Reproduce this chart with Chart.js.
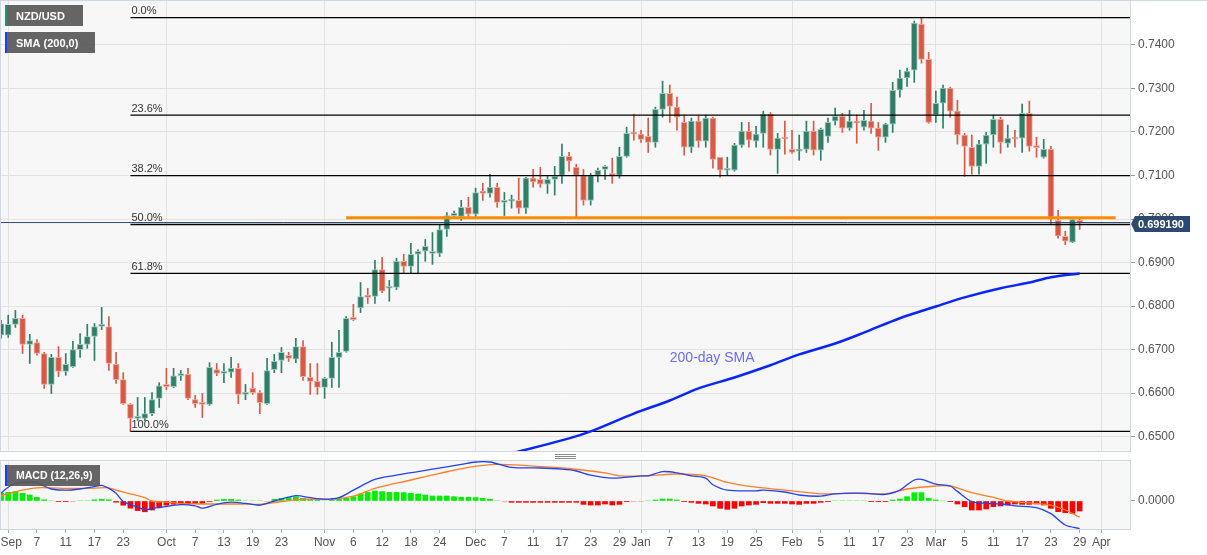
<!DOCTYPE html>
<html>
<head>
<meta charset="utf-8">
<script src="https://cdn.jsdelivr.net/npm/chart.js@4.4.0/dist/chart.umd.min.js"></script>
<style>
  body { margin: 0; background: #fff; width: 1207px; height: 555px; overflow: hidden; position: relative; }
  #price { position: absolute; left: 0; top: 0; }
  #macd { position: absolute; left: 0; top: 460px; }
</style>
</head>
<body>
<canvas id="price" width="1207" height="460"></canvas>
<canvas id="macd" width="1207" height="95"></canvas>
<script>
// trading days (weekdays) from Aug 31 2020, last few are empty space up to Apr 7
const dates = [];
for (let t = Date.UTC(2020, 7, 31); t <= Date.UTC(2021, 3, 7); t += 864e5) {
  const wd = new Date(t).getUTCDay();
  if (wd > 0 && wd < 6) dates.push(new Date(t).toISOString().slice(0, 10));
}
const at = d => dates.indexOf(d);

// NZD/USD daily OHLC, Aug 31 2020 .. Mar 29 2021
const openP = [
  .6733, .6733, .6758, .6772, .6712, .6716, .6691, .6620, .6682, .6650, .6661, .6700, .6712, .6730, .6753, .6753, .6666, .6631, .6574, .6542, .6542, .6553, .6588,
  .6620, .6615, .6640, .6643, .6585, .6578, .6574, .6654, .6645, .6648, .6657, .6597, .6611, .6601, .6576, .6654, .6675, .6687, .6678, .6707, .6636, .6627,
  .6613, .6634, .6682, .6696, .6774, .6796, .6825, .6822, .6884, .6841, .6843, .6903, .6891, .6919, .6926, .6921, .6921, .6976, .7008, .7006, .7027,
  .7011, .7064, .7059, .7073, .7038, .7041, .7043, .7025, .7094, .7091, .7080, .7091, .7100, .7144, .7119, .7100, .7043, .7100, .7114, .7105, .7100, .7144, .7198,
  .7195, .7190, .7176, .7252, .7289, .7257, .7222, .7165, .7225, .7179, .7232, .7142, .7112, .7112, .7170, .7202, .7179, .7197, .7241, .7160, .7188,
  .7160, .7156, .7160, .7202, .7158, .7190, .7225, .7236, .7209, .7225, .7211, .7225, .7209, .7188, .7218, .7296, .7324, .7342, .7448, .7367,
  .7239, .7266, .7301, .7248, .7193, .7165, .7121, .7172, .7193, .7229, .7174, .7187, .7186, .7243, .7167, .7142, .7160, .6997, .6960, .6947, .6997
];
const highP = [
  .6767, .6779, .6790, .6779, .6735, .6723, .6694, .6689, .6707, .6691, .6719, .6737, .6758, .6760, .6797, .6776, .6694, .6647, .6576, .6590, .6590, .6601, .6624,
  .6657, .6657, .6652, .6657, .6595, .6599, .6670, .6668, .6668, .6682, .6668, .6620, .6647, .6606, .6680, .6689, .6705, .6694, .6726, .6721, .6668, .6668,
  .6636, .6717, .6744, .6776, .6804, .6854, .6841, .6905, .6912, .6859, .6910, .6919, .6944, .6930, .6953, .6969, .6988, .7015, .7018, .7043, .7050,
  .7071, .7082, .7103, .7082, .7061, .7055, .7094, .7096, .7114, .7119, .7100, .7121, .7172, .7153, .7126, .7114, .7105, .7117, .7123, .7140, .7165, .7211, .7241,
  .7204, .7232, .7257, .7317, .7308, .7280, .7239, .7232, .7236, .7239, .7234, .7142, .7142, .7174, .7222, .7222, .7213, .7248, .7245, .7197, .7225,
  .7204, .7193, .7225, .7225, .7209, .7232, .7255, .7243, .7250, .7239, .7250, .7266, .7222, .7220, .7314, .7342, .7347, .7455, .7463, .7383,
  .7294, .7308, .7303, .7273, .7197, .7193, .7181, .7199, .7239, .7234, .7216, .7204, .7264, .7271, .7188, .7183, .7167, .7020, .6972, .7002, .7000
];
const lowP = [
  .6726, .6728, .6751, .6691, .6668, .6687, .6611, .6599, .6638, .6641, .6659, .6682, .6703, .6675, .6746, .6652, .6622, .6574, .6512, .6537, .6537, .6548, .6567,
  .6608, .6613, .6629, .6585, .6567, .6544, .6572, .6640, .6624, .6636, .6576, .6585, .6597, .6553, .6574, .6647, .6647, .6673, .6670, .6629, .6597, .6597,
  .6588, .6613, .6613, .6694, .6767, .6785, .6806, .6806, .6831, .6811, .6838, .6875, .6875, .6875, .6903, .6896, .6914, .6960, .7004, .6997, .7006,
  .7006, .7043, .7050, .7027, .7008, .7025, .7013, .7013, .7073, .7073, .7059, .7055, .7082, .7110, .7004, .7032, .7032, .7085, .7091, .7082, .7094, .7142, .7181,
  .7176, .7153, .7165, .7234, .7222, .7204, .7147, .7153, .7165, .7165, .7117, .7096, .7100, .7110, .7165, .7165, .7165, .7165, .7147, .7105, .7149,
  .7151, .7135, .7153, .7147, .7135, .7176, .7216, .7199, .7204, .7174, .7204, .7197, .7158, .7176, .7199, .7280, .7305, .7314, .7358, .7220,
  .7222, .7209, .7234, .7172, .7098, .7103, .7103, .7128, .7165, .7151, .7165, .7165, .7153, .7156, .7142, .7140, .6988, .6956, .6941, .6946, .6976
];
const closeP = [
  .6760, .6758, .6772, .6712, .6721, .6691, .6620, .6682, .6650, .6666, .6700, .6712, .6730, .6753, .6758, .6668, .6631, .6576, .6542, .6546, .6553, .6585, .6617,
  .6615, .6640, .6645, .6588, .6576, .6574, .6659, .6645, .6650, .6657, .6597, .6601, .6601, .6578, .6652, .6673, .6694, .6680, .6707, .6638, .6627, .6613,
  .6634, .6682, .6694, .6772, .6769, .6822, .6820, .6884, .6834, .6845, .6903, .6891, .6919, .6926, .6937, .6924, .6976, .7008, .7013, .7027, .7011,
  .7061, .7059, .7073, .7038, .7043, .7045, .7025, .7094, .7085, .7080, .7091, .7098, .7144, .7133, .7100, .7043, .7100, .7112, .7121, .7100, .7144, .7197, .7195,
  .7183, .7176, .7252, .7289, .7259, .7234, .7165, .7225, .7179, .7232, .7137, .7112, .7115, .7170, .7202, .7181, .7195, .7241, .7160, .7186, .7184,
  .7153, .7160, .7202, .7158, .7206, .7222, .7236, .7209, .7225, .7220, .7227, .7209, .7188, .7218, .7296, .7324, .7340, .7450, .7367, .7222,
  .7266, .7301, .7248, .7193, .7167, .7121, .7172, .7193, .7229, .7176, .7186, .7184, .7243, .7167, .7164, .7160, .7004, .6961, .6949, .6999, .69919
];

// 200-day SMA, read at a few sessions (earlier values sit below the panel)
const smaPts = [
  ['2020-11-23', .6428], ['2020-11-30', .6440], ['2020-12-09', .6466], ['2020-12-18', .6496], ['2020-12-23', .6512],
  ['2020-12-31', .6553], ['2021-01-07', .6583], ['2021-01-13', .6611], ['2021-01-20', .6636], ['2021-01-27', .6664],
  ['2021-02-02', .6689], ['2021-02-09', .6714], ['2021-02-15', .6739], ['2021-02-22', .6772], ['2021-03-01', .6799],
  ['2021-03-05', .6820], ['2021-03-12', .6841], ['2021-03-18', .6854], ['2021-03-23', .6866], ['2021-03-29', .6875]
];

// MACD (12,26,9)
const macdPts = [
  ['2020-08-31', .0013], ['2020-09-01', .0023], ['2020-09-02', .0030], ['2020-09-03', .0031], ['2020-09-07', .0031],
  ['2020-09-08', .0025], ['2020-09-09', .0020], ['2020-09-11', .0018], ['2020-09-15', .0020], ['2020-09-17', .0024],
  ['2020-09-18', .0026], ['2020-09-21', .0021], ['2020-09-22', .0013], ['2020-09-23', -.0001], ['2020-09-25', -.0010],
  ['2020-09-28', -.0015], ['2020-09-29', -.0012], ['2020-09-30', -.0011], ['2020-10-05', -.0006], ['2020-10-07', -.0008],
  ['2020-10-08', -.0012], ['2020-10-12', -.00055], ['2020-10-14', -.0002], ['2020-10-16', -.0004], ['2020-10-20', -.0007],
  ['2020-10-22', .0000], ['2020-10-27', .0009], ['2020-10-29', .00055], ['2020-11-02', .0003], ['2020-11-04', .00055],
  ['2020-11-06', .0018], ['2020-11-11', .0036], ['2020-11-16', .0043], ['2020-11-19', .0049], ['2020-11-23', .0053],
  ['2020-11-27', .0061], ['2020-12-01', .0065], ['2020-12-03', .0065], ['2020-12-08', .0056], ['2020-12-14', .0055],
  ['2020-12-17', .0053], ['2020-12-21', .0050], ['2020-12-23', .0043], ['2020-12-28', .0038], ['2021-01-01', .0042],
  ['2021-01-04', .0042], ['2021-01-06', .0049], ['2021-01-08', .0047], ['2021-01-12', .0042], ['2021-01-14', .0038],
  ['2021-01-15', .0027], ['2021-01-19', .0018], ['2021-01-25', .0017], ['2021-01-26', .0018], ['2021-01-29', .0015],
  ['2021-02-02', .0010], ['2021-02-05', .0008], ['2021-02-09', .0012], ['2021-02-15', .0013], ['2021-02-18', .0011],
  ['2021-02-22', .0018], ['2021-02-23', .0027], ['2021-02-24', .0035], ['2021-02-25', .0036], ['2021-03-01', .0028],
  ['2021-03-03', .0025], ['2021-03-04', .0016], ['2021-03-08', -.0001], ['2021-03-10', -.0004], ['2021-03-12', -.0005],
  ['2021-03-16', -.0008], ['2021-03-19', -.0011], ['2021-03-23', -.0021], ['2021-03-25', -.0040], ['2021-03-29', -.0046]
];
const signalPts = [
  ['2020-08-31', .0009], ['2020-09-03', .0018], ['2020-09-07', .0022], ['2020-09-09', .0022], ['2020-09-11', .0021],
  ['2020-09-16', .0021], ['2020-09-21', .0022], ['2020-09-22', .0018], ['2020-09-24', .0012], ['2020-09-28', .00055],
  ['2020-09-29', .0000], ['2020-10-01', -.0002], ['2020-10-05', -.0004], ['2020-10-08', -.0005], ['2020-10-16', -.0005],
  ['2020-10-20', -.00055], ['2020-10-27', .0002], ['2020-10-30', .0003], ['2020-11-03', .0003], ['2020-11-06', .0008],
  ['2020-11-11', .0021], ['2020-11-18', .0035], ['2020-11-24', .0046], ['2020-11-30', .0056], ['2020-12-04', .0061],
  ['2020-12-10', .0059], ['2020-12-17', .0055], ['2020-12-25', .0047], ['2020-12-29', .0042], ['2021-01-04', .0042],
  ['2021-01-08', .0045], ['2021-01-14', .0042], ['2021-01-19', .0031], ['2021-01-25', .0023], ['2021-02-01', .0017],
  ['2021-02-05', .0012], ['2021-02-11', .0013], ['2021-02-18', .0012], ['2021-02-23', .0020], ['2021-03-01', .0025],
  ['2021-03-03', .0025], ['2021-03-08', .0014], ['2021-03-11', .0006], ['2021-03-15', .0000], ['2021-03-19', -.0004],
  ['2021-03-23', -.0007], ['2021-03-25', -.0015], ['2021-03-29', -.0027]
];
const histVals = [
  .0013, .00145, .00155, .0013, .0010, .0006, .0002, .00005, -.0001, -.0001, -.00004, .00004, .00005, .0002, .0003, .0002, -.0002, -.0007, -.0012, -.0016, -.0018, -.0015, -.0011,
  -.0007, -.00055, -.0005, -.0005, -.0004, -.0004, -.0001, .00017, .00028, .00028, .00017, .00006, .00006, .00005, -.00006, .00028, .00044, .00056, .00072, .00044, .00028, .00017,
  .00006, .00017, .00028, .00044, .00072, .00117, .00144, .00167, .00156, .00144, .00144, .00139, .00128, .00117, .0010, .00083, .00083, .00083, .00072, .00061, .00061,
  .00056, .00044, .00028, .00006, -.00003, -.00022, -.00022, -.00022, -.00022, -.00022, -.00022, -.00022, -.00022, -.00022, -.00022, -.00056, -.00067, -.00067, -.0005, -.00067, -.00056, -.00011, -.00006,
  -.00006, .00003, .00017, .00033, .00033, .00017, -.00011, -.00022, -.00039, -.0005, -.00083, -.00122, -.00139, -.00122, -.00083, -.00067, -.00056, -.00028, -.00039, -.00039, -.00039,
  -.0005, -.00056, -.00039, -.00039, -.00022, -.00011, .00006, .00006, .00006, .00006, .00006, -.00011, -.00011, -.00011, .00017, .00033, .00072, .00139, .00139, .00044,
  .00017, .00006, -.00011, -.0005, -.00094, -.0015, -.0015, -.00133, -.00094, -.00083, -.00067, -.0005, -.00056, -.00056, -.0005, -.00067, -.00122, -.00178, -.00194, -.00206, -.00167
];

// Fibonacci retracement (Sep 24 low to Feb 25 high), resistance line, last price
const fibHigh = 0.7463, fibLow = 0.6512, fibFrom = '2020-09-24';
const fibPcts = [0, 23.6, 38.2, 50, 61.8, 100];
const resistLevel = 0.7003, resistFrom = '2020-11-05', resistTo = '2021-04-05';
const lastPrice = 0.69919;

// axis labels
const priceTicks = [0.65, 0.66, 0.67, 0.68, 0.69, 0.70, 0.71, 0.72, 0.73, 0.74];
const xLabels = [
  ['2020-09-01', 'Sep'], ['2020-09-07', '7'], ['2020-09-11', '11'], ['2020-09-17', '17'], ['2020-09-23', '23'],
  ['2020-10-01', 'Oct'], ['2020-10-07', '7'], ['2020-10-13', '13'], ['2020-10-19', '19'], ['2020-10-23', '23'],
  ['2020-11-02', 'Nov'], ['2020-11-06', '6'], ['2020-11-12', '12'], ['2020-11-18', '18'], ['2020-11-24', '24'],
  ['2020-12-01', 'Dec'], ['2020-12-07', '7'], ['2020-12-11', '11'], ['2020-12-17', '17'], ['2020-12-23', '23'], ['2020-12-29', '29'],
  ['2021-01-01', 'Jan'], ['2021-01-07', '7'], ['2021-01-13', '13'], ['2021-01-19', '19'], ['2021-01-25', '25'],
  ['2021-02-01', 'Feb'], ['2021-02-05', '5'], ['2021-02-11', '11'], ['2021-02-17', '17'], ['2021-02-23', '23'],
  ['2021-03-01', 'Mar'], ['2021-03-05', '5'], ['2021-03-11', '11'], ['2021-03-17', '17'], ['2021-03-23', '23'], ['2021-03-29', '29'],
  ['2021-04-01', 'Apr']
];

Chart.defaults.font.family = "'Liberation Sans', Arial, sans-serif";
Chart.defaults.animation = false;

const lastIdx = dates.length - 1;
const tickMap = {};
xLabels.forEach(([d, t]) => { tickMap[at(d)] = t; });
const monthIdx = new Set(xLabels.filter(([d, t]) => isNaN(t)).map(([d]) => at(d)));
const firstTick = at(xLabels[0][0]);

const GREEN = '#2e7e68', RED = '#d65a46';
const isUp = closeP.map((c, i) => c >= openP[i]);
const pts = list => list.map(([d, v]) => ({ x: at(d), y: v }));
const flat = (from, to, v) => [{ x: from, y: v }, { x: to, y: v }];

// keep Chart.js from padding the plot area for edge labels
const noPad = s => { s.paddingTop = 0; s.paddingBottom = 0; s.paddingLeft = 0; s.paddingRight = 0; };

const xScale = (withLabels) => ({
  type: 'linear', min: 0, max: lastIdx, offset: false,
  afterBuildTicks: s => { s.ticks = Object.keys(tickMap).map(k => ({ value: +k })); },
  afterFit: s => { noPad(s); s.height = withLabels ? 26 : 0; },
  ticks: {
    display: withLabels, autoSkip: false, maxRotation: 0, padding: 2,
    color: '#555', font: { size: 12 },
    // first label would be cut by the left edge, nudge it right a little
    callback: v => (v === firstTick ? '\u2002' : '') + (tickMap[v] || '')
  },
  grid: {
    offset: false,
    color: c => (c.tick && monthIdx.has(c.tick.value)) ? '#e3e3e3' : 'rgba(0,0,0,0)',
    tickColor: '#aaa', drawTicks: withLabels, tickLength: 4
  },
  border: { display: false }
});

const panel = {
  id: 'panel',
  beforeDraw(chart) {
    const { ctx, chartArea: a } = chart;
    ctx.save();
    ctx.fillStyle = '#f7f7f7';
    ctx.fillRect(a.left, a.top, a.right - a.left, a.bottom - a.top);
    ctx.restore();
  },
  afterDraw(chart) {
    const { ctx, chartArea: a } = chart;
    ctx.save();
    ctx.strokeStyle = '#d0d6e2';
    ctx.lineWidth = 1;
    ctx.strokeRect(a.left - 0.5, a.top - 0.5, a.right - a.left + 1, a.bottom - a.top + 1);
    ctx.restore();
  }
};

function labelBox(ctx, x, y, w, h, stripe, text, font) {
  ctx.fillStyle = 'rgba(88,88,88,0.92)';
  ctx.fillRect(x, y, w, h);
  ctx.fillStyle = stripe;
  ctx.fillRect(x, y, 2, h);
  ctx.fillStyle = '#fff';
  ctx.font = font;
  ctx.textBaseline = 'middle';
  ctx.textAlign = 'left';
  ctx.fillText(text, x + 11, y + h / 2 + 1);
}

const priceExtras = {
  id: 'priceExtras',
  afterDatasetsDraw(chart) {
    const { ctx, scales: { x, y } } = chart;
    ctx.save();
    ctx.fillStyle = '#333';
    ctx.font = '11px ' + Chart.defaults.font.family;
    ctx.textBaseline = 'bottom';
    fibPcts.forEach(p => {
      const lv = fibHigh - (fibHigh - fibLow) * p / 100;
      ctx.fillText(p.toFixed(1) + '%', x.getPixelForValue(at(fibFrom)) + 1, y.getPixelForValue(lv) - 1);
    });
    ctx.fillStyle = '#6a6cf5';
    ctx.font = '14px ' + Chart.defaults.font.family;
    ctx.textBaseline = 'middle';
    ctx.fillText('200-day SMA', x.getPixelForValue(at('2021-01-07')), y.getPixelForValue(0.6680));
    ctx.restore();
  },
  afterDraw(chart) {
    const { ctx, scales: { y } } = chart;
    ctx.save();
    ctx.strokeStyle = '#d0d6e2';
    ctx.beginPath(); ctx.moveTo(0, 0.5); ctx.lineTo(1207, 0.5); ctx.stroke();
    labelBox(ctx, 5, 5, 78, 21, '#2e8b74', 'NZD/USD', 'bold 11px ' + Chart.defaults.font.family);
    labelBox(ctx, 5, 32, 90, 21, '#1b3cff', 'SMA (200,0)', 'bold 11px ' + Chart.defaults.font.family);
    // last price tag
    const py = Math.round(y.getPixelForValue(lastPrice)) + 1;
    ctx.fillStyle = '#2c4a6e';
    ctx.beginPath();
    ctx.moveTo(1131, py); ctx.lineTo(1135, py - 8); ctx.lineTo(1190, py - 8);
    ctx.lineTo(1190, py + 8); ctx.lineTo(1135, py + 8); ctx.closePath();
    ctx.fill();
    ctx.fillStyle = '#fff';
    ctx.font = 'bold 11px ' + Chart.defaults.font.family;
    ctx.textBaseline = 'middle';
    ctx.fillText(lastPrice.toFixed(6), 1138, py + 1);
    // panel resize handle
    ctx.strokeStyle = '#888';
    ctx.lineWidth = 1;
    [454.5, 456.5, 458.5].forEach(hy => { ctx.beginPath(); ctx.moveTo(555, hy); ctx.lineTo(576, hy); ctx.stroke(); });
    ctx.restore();
  }
};

new Chart(document.getElementById('price'), {
  type: 'bar',
  data: {
    datasets: [
      {
        label: 'wick', order: 6, grouped: false, barThickness: 1,
        data: openP.map((o, i) => ({ x: i, y: [lowP[i], highP[i]] })),
        backgroundColor: isUp.map(u => u ? GREEN : RED)
      },
      {
        label: 'body', order: 5, grouped: false, barThickness: 6, minBarLength: 2,
        data: openP.map((o, i) => ({ x: i, y: [o, closeP[i]] })),
        backgroundColor: isUp.map(u => u ? GREEN : RED),
        borderColor: isUp.map(u => u ? '#9cc8bb' : '#eeaa9e'),
        borderWidth: 1, borderSkipped: false
      },
      ...fibPcts.map(p => ({
        type: 'line', order: 3, label: 'fib ' + p,
        data: flat(at(fibFrom), lastIdx, fibHigh - (fibHigh - fibLow) * p / 100),
        borderColor: '#000', borderWidth: 1.3, pointRadius: 0
      })),
      {
        type: 'line', order: 4, label: 'last',
        data: flat(0, lastIdx, lastPrice),
        borderColor: '#2c4a6e', borderWidth: 1, pointRadius: 0
      },
      {
        type: 'line', order: 2, label: 'resistance',
        data: flat(at(resistFrom), at(resistTo), resistLevel),
        borderColor: '#ff8c00', borderWidth: 3, pointRadius: 0
      },
      {
        type: 'line', order: 1, label: 'SMA 200',
        data: pts(smaPts),
        borderColor: '#0a26ff', borderWidth: 2.5, pointRadius: 0, tension: 0.3
      }
    ]
  },
  options: {
    responsive: false,
    layout: { padding: { left: 1, top: 1, right: 0, bottom: 9 } },
    plugins: { legend: { display: false }, tooltip: { enabled: false } },
    scales: {
      x: xScale(false),
      y: {
        type: 'linear', position: 'right', min: 0.6467, max: 0.7501,
        afterBuildTicks: s => { s.ticks = priceTicks.map(v => ({ value: v })); },
        afterFit: s => { noPad(s); s.width = 77; },
        ticks: { color: '#555', font: { size: 12 }, padding: 3, callback: v => v.toFixed(4) },
        grid: { color: '#e3e3e3', tickColor: '#999', tickLength: 5 },
        border: { display: false }
      }
    }
  },
  plugins: [panel, priceExtras]
});

const macdExtras = {
  id: 'macdExtras',
  afterDraw(chart) {
    const { ctx } = chart;
    ctx.save();
    labelBox(ctx, 5, 5, 95, 21, '#1b3cff', 'MACD (12,26,9)', 'bold 10.5px ' + Chart.defaults.font.family);
    ctx.restore();
  }
};

new Chart(document.getElementById('macd'), {
  type: 'bar',
  data: {
    datasets: [
      {
        label: 'hist', order: 3, barThickness: 5,
        data: histVals.map((v, i) => ({ x: i, y: v })),
        backgroundColor: histVals.map(v => v >= 0
          ? (v < 0.0001 ? '#a6f0a6' : '#00ee00')
          : (v > -0.0001 ? '#ffaaaa' : '#ff0000'))
      },
      {
        type: 'line', order: 2, label: 'signal',
        data: pts(signalPts),
        borderColor: '#ff7f27', borderWidth: 1.3, pointRadius: 0, tension: 0.3
      },
      {
        type: 'line', order: 1, label: 'macd',
        data: pts(macdPts),
        borderColor: '#2342f0', borderWidth: 1.3, pointRadius: 0, tension: 0.3
      }
    ]
  },
  options: {
    responsive: false,
    layout: { padding: { left: 1, top: 1, right: 0, bottom: 0 } },
    plugins: { legend: { display: false }, tooltip: { enabled: false } },
    scales: {
      x: xScale(true),
      y: {
        type: 'linear', position: 'right', min: -0.004667, max: 0.006667,
        afterBuildTicks: s => { s.ticks = [{ value: 0 }]; },
        afterFit: s => { noPad(s); s.width = 77; },
        ticks: { color: '#555', font: { size: 12 }, padding: 3, callback: () => '0.0000' },
        grid: { drawOnChartArea: false, tickColor: '#999', tickLength: 5 },
        border: { display: false }
      }
    }
  },
  plugins: [panel, macdExtras]
});
</script>
</body>
</html>
